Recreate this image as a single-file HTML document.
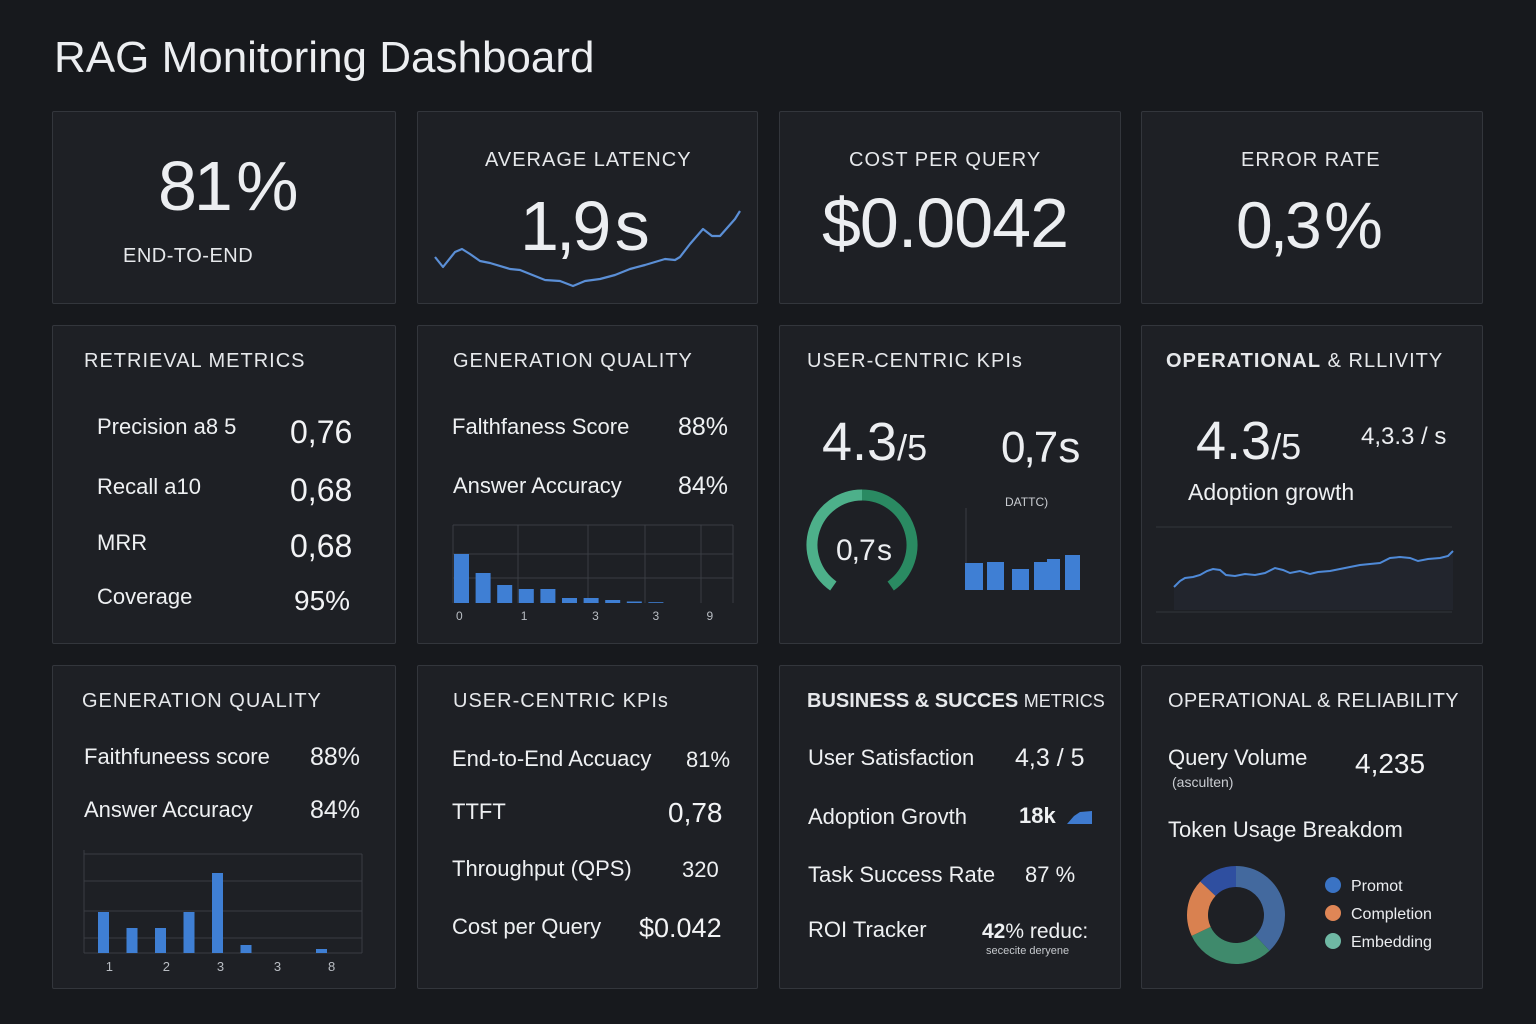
<!DOCTYPE html>
<html><head><meta charset="utf-8">
<style>
*{margin:0;padding:0;box-sizing:border-box}
body{width:1536px;height:1024px;background:#17191d;font-family:"Liberation Sans",sans-serif;color:#eceef1;position:relative;overflow:hidden}
.p{position:absolute;background:#1e2025;border:1px solid #33363c;border-radius:2px}
.t{position:absolute;line-height:1;white-space:nowrap}
.h{font-size:20px;letter-spacing:1px;color:#e6e8eb}
.r{font-size:22px;color:#eef0f2}
.v{font-size:28px;color:#f2f3f5}
.big{letter-spacing:-3px;word-spacing:-10px}
svg{position:absolute;left:0;top:0}
</style></head><body>
<div class="t" style="left:54px;top:36px;font-size:44px">RAG Monitoring Dashboard</div>

<div class="p" style="left:52px;top:111px;width:344px;height:193px"></div>
<div class="p" style="left:417px;top:111px;width:341px;height:193px"></div>
<div class="p" style="left:779px;top:111px;width:342px;height:193px"></div>
<div class="p" style="left:1141px;top:111px;width:342px;height:193px"></div>
<div class="p" style="left:52px;top:325px;width:344px;height:319px"></div>
<div class="p" style="left:417px;top:325px;width:341px;height:319px"></div>
<div class="p" style="left:779px;top:325px;width:342px;height:319px"></div>
<div class="p" style="left:1141px;top:325px;width:342px;height:319px"></div>
<div class="p" style="left:52px;top:665px;width:344px;height:324px"></div>
<div class="p" style="left:417px;top:665px;width:341px;height:324px"></div>
<div class="p" style="left:779px;top:665px;width:342px;height:324px"></div>
<div class="p" style="left:1141px;top:665px;width:342px;height:324px"></div>

<!-- row 1 -->
<div class="t big" style="left:158px;top:151px;font-size:70px">81 %</div>
<div class="t h" style="left:123px;top:246px;letter-spacing:0.5px">END-TO-END</div>
<div class="t h" style="left:485px;top:150px">AVERAGE LATENCY</div>
<div class="t big" style="left:520px;top:191px;font-size:70px">1,9 s</div>
<div class="t h" style="left:849px;top:150px">COST PER QUERY</div>
<div class="t" style="left:822px;top:188px;font-size:70px;letter-spacing:-1px">$0.0042</div>
<div class="t h" style="left:1241px;top:150px">ERROR RATE</div>
<div class="t big" style="left:1236px;top:192px;font-size:66px">0,3 %</div>

<!-- row 2 -->
<div class="t h" style="left:84px;top:351px">RETRIEVAL METRICS</div>
<div class="t r" style="left:97px;top:416px">Precision a8 5</div>
<div class="t v" style="left:290px;top:416px;font-size:32px">0,76</div>
<div class="t r" style="left:97px;top:476px">Recall a10</div>
<div class="t v" style="left:290px;top:474px;font-size:32px">0,68</div>
<div class="t r" style="left:97px;top:532px">MRR</div>
<div class="t v" style="left:290px;top:530px;font-size:32px">0,68</div>
<div class="t r" style="left:97px;top:586px">Coverage</div>
<div class="t v" style="left:294px;top:587px">95%</div>

<div class="t h" style="left:453px;top:351px">GENERATION QUALITY</div>
<div class="t r" style="left:452px;top:416px">Falthfaness Score</div>
<div class="t r" style="left:678px;top:415px;font-size:25px">88%</div>
<div class="t r" style="left:453px;top:475px">Answer Accuracy</div>
<div class="t r" style="left:678px;top:474px;font-size:25px">84%</div>

<div class="t h" style="left:807px;top:351px">USER-CENTRIC KPIs</div>
<div class="t" style="left:822px;top:415px;font-size:54px">4.3<span style="font-size:36px">/5</span></div>
<div class="t" style="left:1001px;top:426px;font-size:44px;letter-spacing:-2px;word-spacing:-8px">0,7 s</div>
<div class="t" style="left:1005px;top:496px;font-size:12px;color:#c9ccd1">DATTC)</div>
<div class="t" style="left:836px;top:536px;font-size:30px;letter-spacing:-1px;word-spacing:-5px">0,7 s</div>

<div class="t h" style="left:1166px;top:351px"><b>OPERATIONAL</b> &amp; RLLIVITY</div>
<div class="t" style="left:1196px;top:414px;font-size:54px">4.3<span style="font-size:36px">/5</span></div>
<div class="t" style="left:1361px;top:425px;font-size:24px">4,3.3 / s</div>
<div class="t r" style="left:1188px;top:481px;font-size:23px">Adoption growth</div>

<!-- row 3 -->
<div class="t h" style="left:82px;top:691px">GENERATION QUALITY</div>
<div class="t r" style="left:84px;top:746px">Faithfuneess score</div>
<div class="t r" style="left:310px;top:745px;font-size:25px">88%</div>
<div class="t r" style="left:84px;top:799px">Answer Accuracy</div>
<div class="t r" style="left:310px;top:798px;font-size:25px">84%</div>

<div class="t h" style="left:453px;top:691px">USER-CENTRIC KPIs</div>
<div class="t r" style="left:452px;top:748px">End-to-End Accuacy</div>
<div class="t r" style="left:686px;top:749px">81%</div>
<div class="t r" style="left:452px;top:801px">TTFT</div>
<div class="t v" style="left:668px;top:799px">0,78</div>
<div class="t r" style="left:452px;top:858px">Throughput (QPS)</div>
<div class="t r" style="left:682px;top:859px">320</div>
<div class="t r" style="left:452px;top:916px">Cost per Query</div>
<div class="t v" style="left:639px;top:915px;font-size:27px">$0.042</div>

<div class="t h" style="left:807px;top:691px;letter-spacing:0"><b>BUSINESS &amp; SUCCES</b> <span style="font-size:18px">METRICS</span></div>
<div class="t r" style="left:808px;top:747px">User Satisfaction</div>
<div class="t r" style="left:1015px;top:746px;font-size:25px">4,3 / 5</div>
<div class="t r" style="left:808px;top:806px">Adoption Grovth</div>
<div class="t r" style="left:1019px;top:805px"><b>18k</b></div>
<svg width="1536" height="1024" style="pointer-events:none"><path d="M1067 824 L1074 816 L1080 812 L1092 811 L1092 824 Z" fill="#3f7bd0"/></svg>
<div class="t r" style="left:808px;top:864px">Task Success Rate</div>
<div class="t r" style="left:1025px;top:864px">87 %</div>
<div class="t r" style="left:808px;top:919px">ROI Tracker</div>
<div class="t r" style="left:982px;top:921px;font-size:21px"><b>42</b>% reduc:</div>
<div class="t" style="left:986px;top:946px;font-size:11px;color:#c5c8cc">sececite deryene</div>

<div class="t h" style="left:1168px;top:691px;letter-spacing:0.3px">OPERATIONAL &amp; RELIABILITY</div>
<div class="t r" style="left:1168px;top:747px">Query Volume</div>
<div class="t" style="left:1172px;top:775px;font-size:14px;color:#c9ccd1">(asculten)</div>
<div class="t v" style="left:1355px;top:750px">4,235</div>
<div class="t r" style="left:1168px;top:819px">Token Usage Breakdom</div>

<svg id="charts" width="1536" height="1024"></svg>

<script>
// Latency sparkline
const latX=[0,8,20,27,35,45,55,75,85,95,110,125,138,150,165,180,195,210,230,240,245,255,268,277,285,300,305];
const latY=[2.06,1.96,2.11,2.14,2.09,2.02,2.0,1.94,1.93,1.89,1.83,1.82,1.77,1.82,1.84,1.88,1.94,1.98,2.04,2.03,2.06,2.19,2.34,2.27,2.27,2.44,2.52];
// Generation quality histogram
const genCats=["0","","1","","","3","","3","",""];
const genVals=[49,30,18,14,14,5,5,3,1.5,0.8];
const genTicks=[["0",0],["1",3],["3",6.3],["3",9.1],["9",11.6]];
// KPI bars
const kpiVals=[27,28,21,28,31,35];
// Adoption growth
const adX=[0,6,11,19,26,33,39,46,52,61,71,81,91,101,109,116,126,136,144,156,166,176,186,196,206,216,226,236,244,254,266,274,279];
const adY=[10,16,19,20,22,26,28,27,22,21,23,22,24,29,27,24,26,23,25,26,28,30,32,33,34,39,40,39,36,38,39,41,46];
// Generation quality 2 bars
const gen2Vals=[41,25,25,41,80,8,4];
const gen2Pos=[0,1,2,3,4,5,8];
const gen2Ticks=[["1",0.2],["2",2.2],["3",4.1],["3",6.1],["8",8]];
// Token usage donut
const tokLabels=["Promot","Embedding","Completion","Other"];
const tokVals=[38,30,19,13];
const tokColors=["#43699e","#3f8a6c","#d98150","#2f4fa0"];
const legendLabels=["Promot","Completion","Embedding"];
const legendColors=["#3a73c4","#df8656","#6fb8a4"];
// Gauge
const gaugeVal=0.7, gaugeMax=1.0;

const NS="http://www.w3.org/2000/svg";
const svg=document.getElementById('charts');
function mk(tag,attrs){const e=document.createElementNS(NS,tag);for(const k in attrs)e.setAttribute(k,attrs[k]);svg.appendChild(e);return e;}
function lin(d0,d1,r0,r1){return v=>r0+(v-d0)/(d1-d0)*(r1-r0);}

// latency line
{const sx=lin(0,305,435,740),sy=lin(1.8,2.5,283,213);
const d=latX.map((x,i)=>(i?'L':'M')+sx(x).toFixed(1)+' '+sy(latY[i]).toFixed(1)).join(' ');
const p=mk('path',{d:d,fill:'none',stroke:'#5b8fd6','stroke-width':2.2,'stroke-linejoin':'round'});

}

// gen histogram
{const x0=453,x1=733,base=603,top=525;
[525,554,578].forEach(y=>{const g=mk('line',{x1:x0,x2:x1,y1:y,y2:y,stroke:'#3a3d43'});});
[453,518,588,645,701,733].forEach(x=>{const g=mk('line',{x1:x,x2:x,y1:top,y2:base,stroke:'#3a3d43'});});
const sx=lin(0,1,453,474.6),sy=lin(0,60,base,base-60);
genVals.forEach((v,i)=>{const r=mk('rect',{x:sx(i)+1,y:sy(v),width:15,height:base-sy(v),fill:'#3f7fd4'});
});
genTicks.forEach(t=>{const e=mk('text',{x:sx(t[1])+3,y:620,fill:'#b9bdc3','font-size':12,'font-family':'Liberation Sans'});e.textContent=t[0];
});}

// gauge
{const cx=862,cy=545,r=50;const a0=-145,a1=145;
function pt(a){const rad=(a-90)*Math.PI/180;return [cx+r*Math.cos(rad),cy+r*Math.sin(rad)];}
const am=0;
let [sx_,sy_]=pt(a0),[mx,my]=pt(am),[ex,ey]=pt(a1);
const g1=mk('path',{d:`M${sx_} ${sy_} A${r} ${r} 0 0 1 ${mx} ${my}`,fill:'none',stroke:'#4db08a','stroke-width':11});

const g2=mk('path',{d:`M${mx} ${my} A${r} ${r} 0 0 1 ${ex} ${ey}`,fill:'none',stroke:'#2a8a62','stroke-width':11});
}

// kpi bars
{const base=590,xs=[965,987,1012,1034,1047,1065],ws=[18,17,17,13,13,15];
const ax=mk('line',{x1:966,x2:966,y1:508,y2:590,stroke:'#3a3d43'});
const sy=lin(0,40,base,base-40);
kpiVals.forEach((v,i)=>{const r=mk('rect',{x:xs[i],y:sy(v),width:ws[i],height:base-sy(v),fill:'#3f7fd4'});
});}

// adoption line
{const sx=lin(0,279,1174,1453),sy=lin(0,50,597,547);
[527,612].forEach(y=>{const g=mk('line',{x1:1156,x2:1452,y1:y,y2:y,stroke:'#33363c'});});
const pts=adX.map((x,i)=>[sx(x),sy(adY[i])]);
const dA='M'+pts.map(p=>p[0].toFixed(1)+' '+p[1].toFixed(1)).join(' L')+` L1453 610 L1174 610 Z`;
const a=mk('path',{d:dA,fill:'#252a33',opacity:0.6});
const l=mk('path',{d:'M'+pts.map(p=>p[0].toFixed(1)+' '+p[1].toFixed(1)).join(' L'),fill:'none',stroke:'#4f8ad8','stroke-width':2});
}

// gen2 bars
{const x0=84,x1=362,base=953;
[854,881,911,938].forEach(y=>{const g=mk('line',{x1:x0,x2:x1,y1:y,y2:y,stroke:'#3a3d43'});});
[[84,850,84,953],[362,854,362,953],[84,953,362,953]].forEach(c=>{const g=mk('line',{x1:c[0],y1:c[1],x2:c[2],y2:c[3],stroke:'#3a3d43'});});
const sx=lin(0,1,98,126.5),sy=lin(0,80,base,base-80);
gen2Vals.forEach((v,i)=>{const r=mk('rect',{x:sx(gen2Pos[i])-(gen2Pos[i]==8?10:0),y:sy(v),width:11,height:base-sy(v),fill:'#3f7fd4'});
});
gen2Ticks.forEach(t=>{const e=mk('text',{x:sx(t[1])+2,y:971,fill:'#b9bdc3','font-size':13,'font-family':'Liberation Sans'});e.textContent=t[0];
});}

// donut
{const cx=1236,cy=915,R=49,ri=28;const tot=tokVals.reduce((a,b)=>a+b,0);let acc=0;
tokVals.forEach((v,i)=>{const a0=acc/tot*2*Math.PI,a1=(acc+v)/tot*2*Math.PI;acc+=v;
const P=(a,r)=>[cx+r*Math.sin(a),cy-r*Math.cos(a)];const lg=(a1-a0)>Math.PI?1:0;
const [x0,y0]=P(a0,R),[x1,y1]=P(a1,R),[x2,y2]=P(a1,ri),[x3,y3]=P(a0,ri);
const s=mk('path',{d:`M${x0} ${y0} A${R} ${R} 0 ${lg} 1 ${x1} ${y1} L${x2} ${y2} A${ri} ${ri} 0 ${lg} 0 ${x3} ${y3} Z`,fill:tokColors[i]});
});
legendLabels.forEach((l,i)=>{const y=885+i*28;
const c=mk('circle',{cx:1333,cy:y,r:8,fill:legendColors[i]});
const t=mk('text',{x:1351,y:y+6,fill:'#eceef1','font-size':16,'font-family':'Liberation Sans'});t.textContent=l;
});}
</script>
</body></html>
